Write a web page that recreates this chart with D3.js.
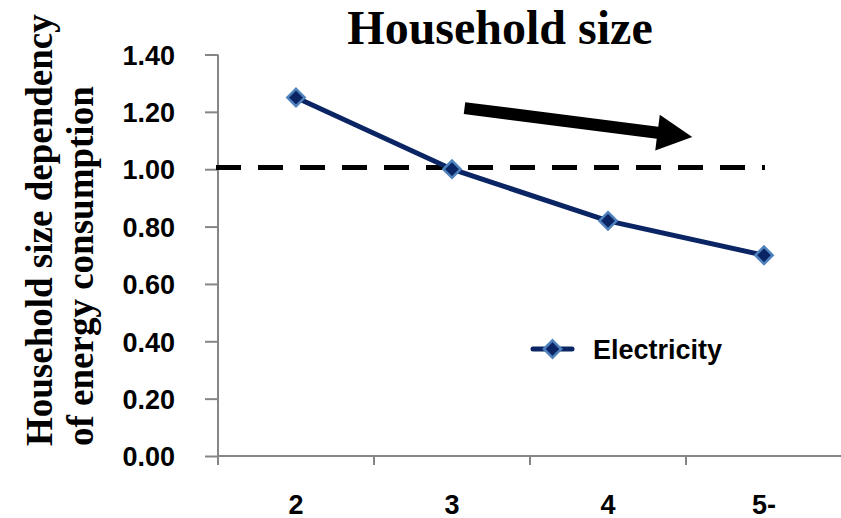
<!DOCTYPE html>
<html>
<head>
<meta charset="utf-8">
<script src="https://cdn.jsdelivr.net/npm/d3@7"></script>
<style>
  html, body { margin: 0; padding: 0; background: #fff; }
  svg { display: block; }
  .num { font-family: "Liberation Sans", Arial, sans-serif; font-weight: bold; }
  .serif { font-family: "Liberation Serif", "Times New Roman", Times, serif; font-weight: bold; }
</style>
</head>
<body>
<svg id="chart" width="841" height="518"></svg>
<script>
// Household size categories and the electricity dependency index
const categories = ["2", "3", "4", "5-"];
const electricity = [1.25, 1.00, 0.82, 0.70];
const yTicks = [0, 0.2, 0.4, 0.6, 0.8, 1.0, 1.2, 1.4];
const referenceLevel = 1.006;
// Trend arrow, given as [category position, value] pairs
const trendArrow = [[1.08, 1.213], [2.54, 1.112]];

const svg = d3.select("#chart");
const plotLeft = 218, plotRight = 842, plotTop = 54.5, plotBottom = 456;

const x = d3.scaleBand().domain(categories).range([plotLeft, plotRight]).padding(0);
const y = d3.scaleLinear().domain([0, 1.4]).range([plotBottom, plotTop]);
const cx = c => x(c) + x.bandwidth() / 2;
// continuous position along the category axis (0 = first category centre)
const xPos = d3.scaleLinear().domain([0, 1]).range([cx(categories[0]), cx(categories[1])]);

const axisColor = "#868686";
const labelSize = 27;
const seriesColor = "#0a2464", markerEdge = "#4f81bd";

// y axis
const yAxis = svg.append("g").attr("transform", `translate(${plotLeft},0)`)
  .call(d3.axisLeft(y).tickValues(yTicks).tickSize(13).tickFormat(d3.format(".2f")));
yAxis.select(".domain").attr("stroke", axisColor).attr("stroke-width", 2)
  .attr("d", `M0,${plotTop}V${plotBottom}`);
yAxis.selectAll(".tick line").attr("stroke", axisColor).attr("stroke-width", 2);
yAxis.selectAll(".tick text")
  .attr("class", "num").attr("x", -43).attr("dy", "0.36em")
  .attr("font-size", labelSize).attr("fill", "#000");

// x axis
const xAxis = svg.append("g").attr("transform", `translate(0,${plotBottom})`)
  .call(d3.axisBottom(x).tickSize(0).tickPadding(0));
xAxis.select(".domain").attr("stroke", axisColor).attr("stroke-width", 2)
  .attr("d", `M${plotLeft},0H${plotRight}`);
xAxis.selectAll(".tick text")
  .attr("class", "num").attr("y", 58).attr("dy", 0)
  .attr("font-size", labelSize).attr("fill", "#000");
// tick marks between categories
svg.append("g").selectAll("line")
  .data(categories)
  .join("line")
  .attr("x1", d => x(d)).attr("x2", d => x(d))
  .attr("y1", plotBottom).attr("y2", plotBottom + 9)
  .attr("stroke", axisColor).attr("stroke-width", 2);

// dashed reference line at the neutral level
svg.append("line")
  .attr("x1", plotLeft - 2).attr("x2", cx(categories[categories.length - 1]) + 1)
  .attr("y1", y(referenceLevel)).attr("y2", y(referenceLevel))
  .attr("stroke", "#000").attr("stroke-width", 5)
  .attr("stroke-dasharray", "25 17");

// electricity series
const line = d3.line().x((d, i) => cx(categories[i])).y(d => y(d));
svg.append("path").datum(electricity)
  .attr("d", line).attr("fill", "none")
  .attr("stroke", seriesColor).attr("stroke-width", 5);

const diamond = d3.symbol().type(d3.symbolDiamond2).size(190);
svg.append("g").selectAll("path")
  .data(electricity)
  .join("path")
  .attr("d", diamond)
  .attr("transform", (d, i) => `translate(${cx(categories[i])},${y(d)})`)
  .attr("fill", seriesColor).attr("stroke", markerEdge).attr("stroke-width", 2.5);

// legend
const lg = svg.append("g").attr("transform", "translate(533,349)");
lg.append("line").attr("x1", 0).attr("x2", 39).attr("y1", 0).attr("y2", 0)
  .attr("stroke", seriesColor).attr("stroke-width", 5).attr("stroke-linecap", "round");
lg.append("path").attr("d", diamond).attr("transform", "translate(19.5,0)")
  .attr("fill", seriesColor).attr("stroke", markerEdge).attr("stroke-width", 2.5);
lg.append("text").attr("class", "num").attr("x", 60).attr("y", 10)
  .attr("font-size", labelSize).text("Electricity");

// trend arrow
const [a0, a1] = trendArrow;
const p0 = [xPos(a0[0]), y(a0[1])], p1 = [xPos(a1[0]), y(a1[1])];
const ang = Math.atan2(p1[1] - p0[1], p1[0] - p0[0]);
const headLen = 35, headHalf = 18;
const base = [p1[0] - headLen * Math.cos(ang), p1[1] - headLen * Math.sin(ang)];
svg.append("line")
  .attr("x1", p0[0]).attr("y1", p0[1]).attr("x2", base[0] + 2 * Math.cos(ang)).attr("y2", base[1] + 2 * Math.sin(ang))
  .attr("stroke", "#000").attr("stroke-width", 12);
svg.append("path")
  .attr("d", d3.line()([
    p1,
    [base[0] + headHalf * Math.sin(ang), base[1] - headHalf * Math.cos(ang)],
    [base[0] - headHalf * Math.sin(ang), base[1] + headHalf * Math.cos(ang)]
  ]) + "Z")
  .attr("fill", "#000");

// title
svg.append("text").attr("class", "serif")
  .attr("x", 500).attr("y", 44).attr("text-anchor", "middle")
  .attr("font-size", 48).text("Household size");

// y axis title, two rotated lines
const yt = svg.append("text").attr("class", "serif")
  .attr("transform", "translate(0,446) rotate(-90)")
  .attr("font-size", 37);
yt.append("tspan").attr("x", 0).attr("y", 52).text("Household size dependency");
yt.append("tspan").attr("x", 0).attr("y", 93).text("of energy consumption");
</script>
</body>
</html>
